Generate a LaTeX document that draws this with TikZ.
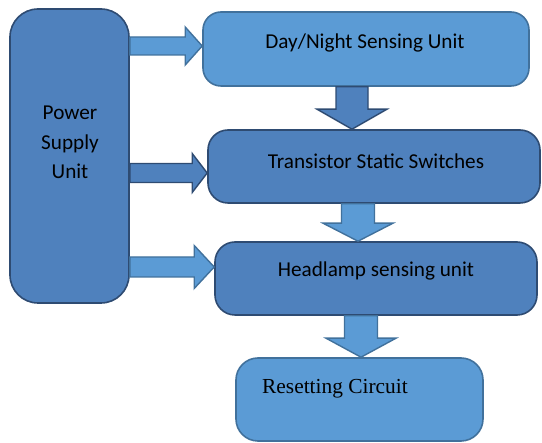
\documentclass[tikz,border=0pt]{standalone}
\usepackage{fontspec}
\setmainfont{Carlito}
\newfontfamily\timesf{Liberation Serif}
\usetikzlibrary{calc}
\definecolor{lightfill}{HTML}{5B9BD5}
\definecolor{lightline}{HTML}{41719C}
\definecolor{darkfill}{HTML}{4F81BD}
\definecolor{darkline}{HTML}{2E4B72}
\tikzset{
  lightbox/.style={draw=lightline, fill=lightfill, line width=1.6pt, inner sep=0pt, rounded corners=18pt},
  darkbox/.style={draw=darkline, fill=darkfill, line width=1.6pt, inner sep=0pt, rounded corners=20pt},
  lightarrow/.style={draw=lightline, fill=lightfill, line width=1.4pt, line join=miter},
  darkarrow/.style={draw=darkline, fill=darkfill, line width=1.4pt, line join=miter},
  lbl/.style={font=\fontsize{21.2}{29.5}\selectfont, text=black, align=center, inner sep=0pt},
}
% horizontal block arrow: style, start, end, shaft half, head half, head length
\newcommand\harrow[6]{\draw[#1] let \p1=#2, \p2=#3 in
  (\x1,\y1+#4) -- (\x2-#6,\y1+#4) -- (\x2-#6,\y1+#5) -- (\x2,\y1) --
  (\x2-#6,\y1-#5) -- (\x2-#6,\y1-#4) -- (\x1,\y1-#4) -- cycle;}
% vertical (downward) block arrow
\newcommand\varrow[6]{\draw[#1] let \p1=#2, \p2=#3 in
  (\x1-#4,\y1) -- (\x1-#4,\y2+#6) -- (\x1-#5,\y2+#6) -- (\x1,\y2) --
  (\x1+#5,\y2+#6) -- (\x1+#4,\y2+#6) -- (\x1+#4,\y1) -- cycle;}
\begin{document}
\begin{tikzpicture}[x=1pt,y=-1pt]
\useasboundingbox (0,0) rectangle (542,443);
% boxes
\node[darkbox, rounded corners=28pt, minimum width=119pt, minimum height=294pt] (psu) at (69.5,156) {};
\node[lightbox, minimum width=326pt, minimum height=74pt] (day) at (366,49) {};
\node[darkbox, minimum width=332pt, minimum height=73pt] (trans) at (374,166.5) {};
\node[darkbox, minimum width=322pt, minimum height=73pt] (head) at (376,278.5) {};
\node[lightbox, rounded corners=22pt, minimum width=247pt, minimum height=83pt] (reset) at (359.5,399.5) {};
% labels
\node[lbl] (psut) at (70,142.5) {Power\\Supply\\Unit};
\node[lbl] (dayt) at (365,43) {Day/Night Sensing Unit};
\node[lbl] (transt) at (376,161) {Transistor Static Switches};
\node[lbl] (headt) at (376,271) {Headlamp sensing unit};
\node[lbl, font=\timesf\fontsize{21.4}{24}\selectfont] (resett) at (335,389) {Resetting Circuit};
% block arrows
\harrow{lightarrow}{(psu.east |- 0,46)}{(day.west |- 0,46)}{9pt}{19pt}{17pt}
\harrow{darkarrow}{(psu.east |- 0,173)}{(trans.west |- 0,173)}{9.5pt}{19.5pt}{15pt}
\harrow{lightarrow}{(psu.east |- 0,267)}{(head.west |- 0,267)}{10pt}{21.5pt}{20pt}
\varrow{darkarrow}{(day.south -| 352,0)}{(trans.north -| 352,0)}{16pt}{35pt}{20pt}
\varrow{lightarrow}{(trans.south -| 358,0)}{(head.north -| 358,0)}{16.5pt}{35pt}{18pt}
\varrow{lightarrow}{(head.south -| 361,0)}{(reset.north -| 361,0)}{16.5pt}{35pt}{19pt}
\end{tikzpicture}
\end{document}
